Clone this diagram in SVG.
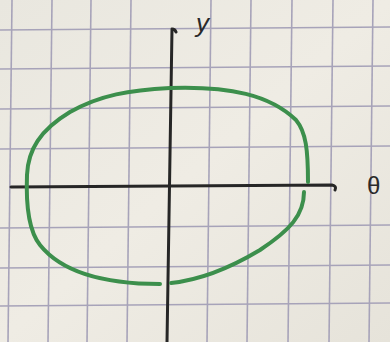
<svg xmlns="http://www.w3.org/2000/svg" width="390" height="342" viewBox="0 0 390 342">
<style>
.grid{stroke:#a7a3b9;stroke-width:1.6;fill:none}
.axis{stroke:#262626;stroke-width:3;fill:none;stroke-linecap:round;stroke-linejoin:round}
.curve{stroke:#3c8f4c;stroke-width:4;fill:none;stroke-linecap:round;stroke-linejoin:round}
.lbl{font-family:"Liberation Sans",Arial,sans-serif;fill:#2a2a2a}
</style>
<defs>
<linearGradient id="paper" x1="0" y1="0" x2="1" y2="1">
<stop offset="0" stop-color="#e9e7df"/>
<stop offset="0.5" stop-color="#efece4"/>
<stop offset="1" stop-color="#e6e3da"/>
</linearGradient>
</defs>
<rect width="390" height="342" fill="url(#paper)"/>
<g id="grid" class="grid">
<line x1="12" y1="0" x2="8" y2="342"/>
<line x1="52" y1="0" x2="48" y2="342"/>
<line x1="91" y1="0" x2="87" y2="342"/>
<line x1="131" y1="0" x2="127" y2="342"/>
<line x1="211" y1="0" x2="207" y2="342"/>
<line x1="251" y1="0" x2="247" y2="342"/>
<line x1="292" y1="0" x2="288" y2="342"/>
<line x1="333" y1="0" x2="329" y2="342"/>
<line x1="373" y1="0" x2="369" y2="342"/>
<line x1="0" y1="30" x2="390" y2="27"/>
<line x1="0" y1="69" x2="390" y2="66"/>
<line x1="0" y1="109" x2="390" y2="106"/>
<line x1="0" y1="149" x2="390" y2="146"/>
<line x1="0" y1="228" x2="390" y2="225"/>
<line x1="0" y1="268" x2="390" y2="265"/>
<line x1="0" y1="306" x2="390" y2="303"/>
</g>
<g id="connectors">
<path id="x-axis" class="axis" d="M11 187 L332 185 Q337 186 335 190"/>
<path id="y-axis" class="axis" d="M167 342 L172 29 Q175 29 176 32"/>
</g>
<g id="ellipse">
<path class="curve" d="M308 182 C308 150 306 132 296 120 C270 95 230 86 170 88 C130 90 100 95 70 112 C40 130 28 150 27 175 C26 200 28 230 40 245 C60 270 100 284 160 284"/>
<path class="curve" d="M171 283 C200 280 230 268 260 250 C290 230 304 215 304 192"/>
</g>
<g id="labels">
<text class="lbl" x="196" y="32" font-size="26" font-style="italic">y</text>
<text class="lbl" x="367" y="194" font-size="24">θ</text>
</g>
</svg>
